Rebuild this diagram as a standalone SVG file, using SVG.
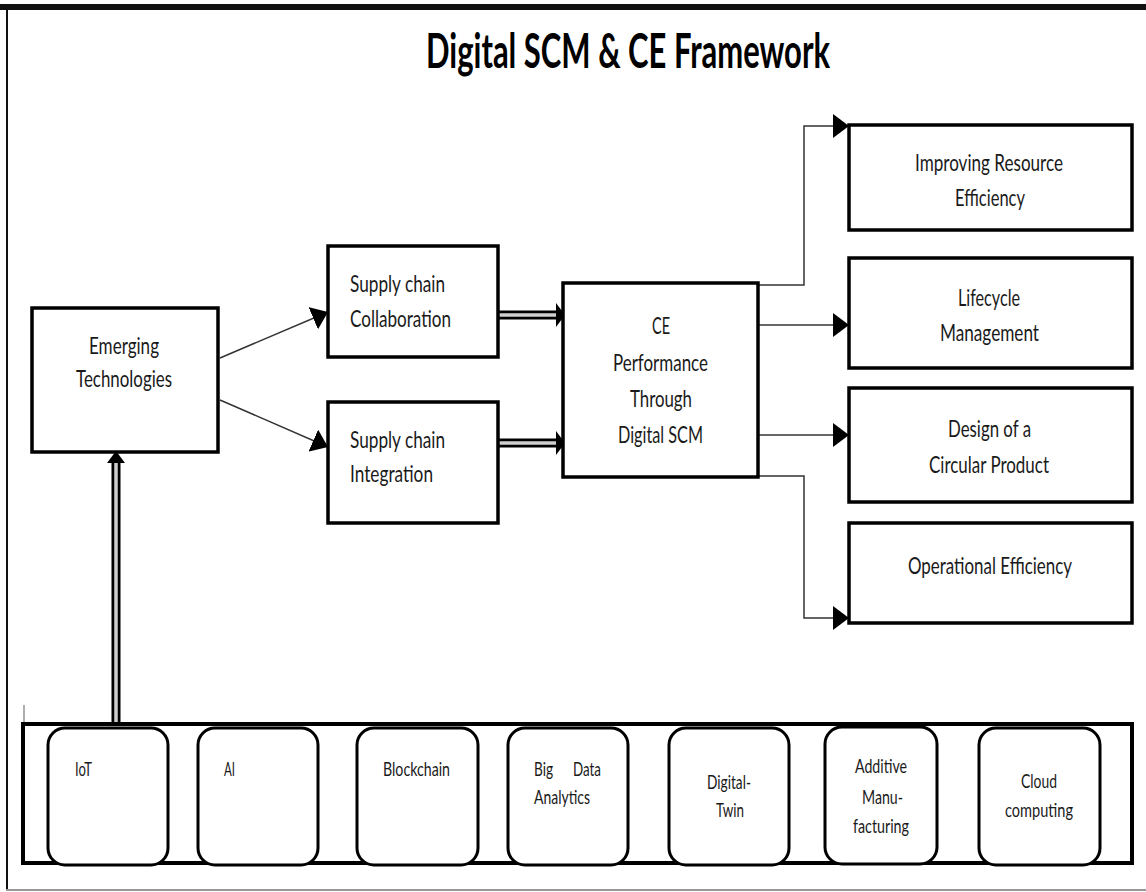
<svg xmlns="http://www.w3.org/2000/svg" width="1146" height="892" viewBox="0 0 1146 892">
  <style>
    .box { fill: #fff; stroke: #000; stroke-width: 3.5; }
    .pill { fill: #fff; stroke: #000; stroke-width: 3; }
    .lbl { font-family: Lato, "Liberation Sans", sans-serif; font-size: 24px; fill: #1a1a1a; }
    .sm { font-family: Lato, "Liberation Sans", sans-serif; font-size: 20px; fill: #1a1a1a; }
    .title { font-family: Lato, "Liberation Sans", sans-serif; font-size: 48px; font-weight: bold; fill: #000; }
    .thin { fill: none; stroke: #333; stroke-width: 1.5; }
    .dblOuter { fill: none; stroke: #000; stroke-width: 9; }
    .dblInner { fill: none; stroke: #cfcfcf; stroke-width: 3.5; }
  </style>
  <defs>
    <marker id="tri" markerUnits="userSpaceOnUse" markerWidth="16" markerHeight="24" refX="16" refY="12" orient="auto">
      <path d="M0,0 L16,12 L0,24 Z" fill="#000"/>
    </marker>
  </defs>

  <!-- page frame -->
  <g id="frame">
    <rect x="0" y="4" width="1146" height="6" fill="#111"/>
    <line x1="7" y1="4" x2="7" y2="890" stroke="#111" stroke-width="2"/>
    <line x1="6" y1="890" x2="1146" y2="890" stroke="#999" stroke-width="2"/>
    <line x1="24" y1="705" x2="24" y2="767" stroke="#777" stroke-width="1.2"/>
  </g>

  <text class="title" x="426" y="68" textLength="404" lengthAdjust="spacingAndGlyphs">Digital SCM &amp; CE Framework</text>

  <!-- connectors -->
  <g id="connectors">
    <line class="thin" x1="220" y1="358" x2="328" y2="312" marker-end="url(#tri)"/>
    <line class="thin" x1="220" y1="400" x2="328" y2="447" marker-end="url(#tri)"/>

    <!-- hollow double-line arrows -->
    <line class="dblOuter" x1="498" y1="315" x2="558" y2="315"/>
    <line class="dblInner" x1="498" y1="315" x2="558" y2="315"/>
    <path d="M556,303 L565,315 L556,327 Z" fill="#000"/>
    <line class="dblOuter" x1="498" y1="443" x2="558" y2="443"/>
    <line class="dblInner" x1="498" y1="443" x2="558" y2="443"/>
    <path d="M556,431 L565,443 L556,455 Z" fill="#000"/>

    <line class="dblOuter" x1="116" y1="723" x2="116" y2="460"/>
    <line class="dblInner" x1="116" y1="723" x2="116" y2="460"/>
    <path d="M107,463 L116,451 L125,463 Z" fill="#000"/>

    <path class="thin" d="M758,285 H804 V126 H849" marker-end="url(#tri)"/>
    <path class="thin" d="M758,325 H849" marker-end="url(#tri)"/>
    <path class="thin" d="M758,435 H849" marker-end="url(#tri)"/>
    <path class="thin" d="M758,476 H804 V618 H849" marker-end="url(#tri)"/>
  </g>

  <g id="emerging">
    <rect class="box" x="32" y="308" width="186" height="144"/>
    <text class="lbl" x="89" y="354" textLength="70" lengthAdjust="spacingAndGlyphs">Emerging</text>
    <text class="lbl" x="76" y="387" textLength="96" lengthAdjust="spacingAndGlyphs">Technologies</text>
  </g>

  <g id="collaboration">
    <rect class="box" x="328" y="246" width="170" height="111"/>
    <text class="lbl" x="350" y="292" textLength="95" lengthAdjust="spacingAndGlyphs">Supply chain</text>
    <text class="lbl" x="350" y="327" textLength="101" lengthAdjust="spacingAndGlyphs">Collaboration</text>
  </g>

  <g id="integration">
    <rect class="box" x="328" y="402" width="170" height="121"/>
    <text class="lbl" x="350" y="448" textLength="95" lengthAdjust="spacingAndGlyphs">Supply chain</text>
    <text class="lbl" x="350" y="482" textLength="83" lengthAdjust="spacingAndGlyphs">Integration</text>
  </g>

  <g id="ce-performance">
    <rect class="box" x="563" y="283" width="195" height="194"/>
    <text class="lbl" x="652" y="334" textLength="18" lengthAdjust="spacingAndGlyphs">CE</text>
    <text class="lbl" x="613" y="371" textLength="95" lengthAdjust="spacingAndGlyphs">Performance</text>
    <text class="lbl" x="630" y="407" textLength="62" lengthAdjust="spacingAndGlyphs">Through</text>
    <text class="lbl" x="618" y="443" textLength="85" lengthAdjust="spacingAndGlyphs">Digital SCM</text>
  </g>

  <g id="resource-efficiency">
    <rect class="box" x="849" y="125" width="283" height="105"/>
    <text class="lbl" x="915" y="171" textLength="148" lengthAdjust="spacingAndGlyphs">Improving Resource</text>
    <text class="lbl" x="955" y="206" textLength="70" lengthAdjust="spacingAndGlyphs">Efficiency</text>
  </g>

  <g id="lifecycle">
    <rect class="box" x="849" y="258" width="283" height="110"/>
    <text class="lbl" x="958" y="306" textLength="62" lengthAdjust="spacingAndGlyphs">Lifecycle</text>
    <text class="lbl" x="940" y="341" textLength="99" lengthAdjust="spacingAndGlyphs">Management</text>
  </g>

  <g id="circular-design">
    <rect class="box" x="849" y="388" width="283" height="114"/>
    <text class="lbl" x="948" y="437" textLength="83" lengthAdjust="spacingAndGlyphs">Design of a</text>
    <text class="lbl" x="929" y="473" textLength="120" lengthAdjust="spacingAndGlyphs">Circular Product</text>
  </g>

  <g id="operational-efficiency">
    <rect class="box" x="849" y="523" width="283" height="100"/>
    <text class="lbl" x="908" y="574" textLength="164" lengthAdjust="spacingAndGlyphs">Operational Efficiency</text>
  </g>

  <!-- technology band -->
  <g id="tech-band">
    <rect x="23" y="724" width="1109" height="139" fill="#fff" stroke="#000" stroke-width="4"/>
  </g>

  <g id="iot">
    <rect class="pill" x="48" y="728" width="120" height="137" rx="17"/>
    <text class="sm" x="75" y="776" textLength="17" lengthAdjust="spacingAndGlyphs">IoT</text>
  </g>
  <g id="ai">
    <rect class="pill" x="198" y="728" width="120" height="137" rx="17"/>
    <text class="sm" x="224" y="776" textLength="11" lengthAdjust="spacingAndGlyphs">AI</text>
  </g>
  <g id="blockchain">
    <rect class="pill" x="357" y="728" width="121" height="137" rx="17"/>
    <text class="sm" x="383" y="776" textLength="67" lengthAdjust="spacingAndGlyphs">Blockchain</text>
  </g>
  <g id="big-data">
    <rect class="pill" x="508" y="728" width="120" height="137" rx="17"/>
    <text class="sm" y="776"><tspan x="534" textLength="19" lengthAdjust="spacingAndGlyphs">Big</tspan><tspan x="573" textLength="28" lengthAdjust="spacingAndGlyphs">Data</tspan></text>
    <text class="sm" x="534" y="804" textLength="56" lengthAdjust="spacingAndGlyphs">Analytics</text>
  </g>
  <g id="digital-twin">
    <rect class="pill" x="669" y="728" width="120" height="137" rx="17"/>
    <text class="sm" x="707" y="789" textLength="44" lengthAdjust="spacingAndGlyphs">Digital-</text>
    <text class="sm" x="716" y="817" textLength="28" lengthAdjust="spacingAndGlyphs">Twin</text>
  </g>
  <g id="additive">
    <rect class="pill" x="825" y="727" width="112" height="137" rx="17"/>
    <text class="sm" x="855" y="773" textLength="52" lengthAdjust="spacingAndGlyphs">Additive</text>
    <text class="sm" x="862" y="804" textLength="41" lengthAdjust="spacingAndGlyphs">Manu-</text>
    <text class="sm" x="853" y="833" textLength="56" lengthAdjust="spacingAndGlyphs">facturing</text>
  </g>
  <g id="cloud">
    <rect class="pill" x="979" y="728" width="121" height="137" rx="17"/>
    <text class="sm" x="1021" y="788" textLength="36" lengthAdjust="spacingAndGlyphs">Cloud</text>
    <text class="sm" x="1005" y="817" textLength="68" lengthAdjust="spacingAndGlyphs">computing</text>
  </g>
</svg>
